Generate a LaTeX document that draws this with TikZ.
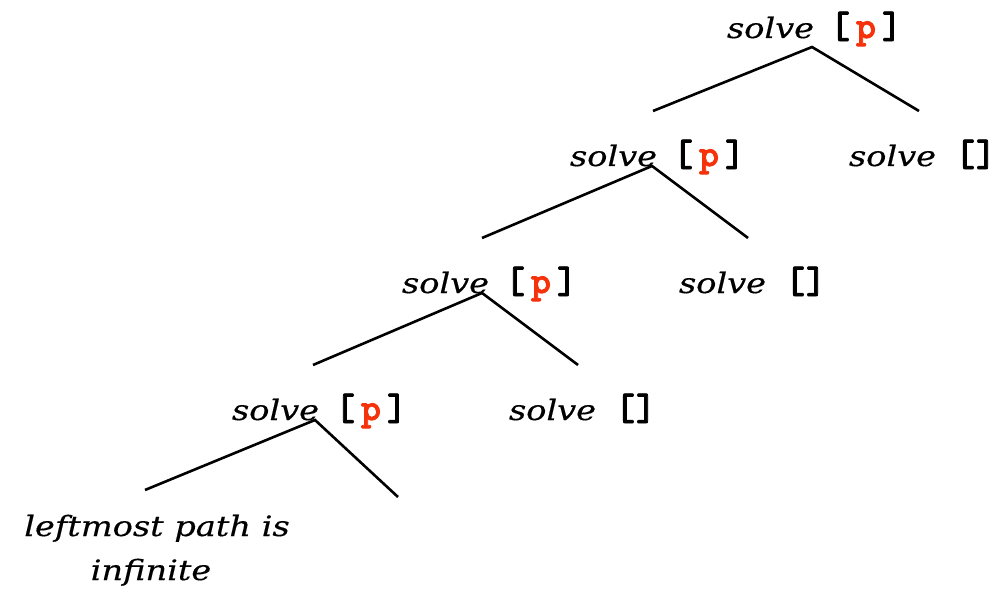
\documentclass[tikz,border=0pt]{standalone}
\usepackage{fontspec}
\newfontfamily\solvefont[FakeStretch=1.2,FakeBold=0.4]{DejaVu Serif Italic}
\newfontfamily\brkfont[FakeBold=2]{lmmonolt10-bold.otf}
\definecolor{pred}{RGB}{245,50,10}
\newcommand{\sv}{{\fontsize{28}{32}\selectfont\solvefont solve}}
\newcommand{\bp}{\hspace{16pt}{\fontsize{38}{40}\selectfont\brkfont [\hspace{6pt}\textcolor{pred}{p}\hspace{6pt}]}}
\newcommand{\be}{\hspace{19pt}{\fontsize{38}{40}\selectfont\brkfont [\hspace{1pt}]}}
\begin{document}
\begin{tikzpicture}[x=1pt,y=-1pt,
  lbl/.style={inner sep=0pt, outer sep=0pt, anchor=base west},
  leaftext/.style={inner sep=0pt, anchor=base, font=\fontsize{28}{32}\selectfont\solvefont},
  edge/.style={line width=2.6pt, black}]
\useasboundingbox (0,0) rectangle (1002,599);
% labels
\node[lbl] (n1) at (727,38) {\sv\bp};
\node[lbl] (n2) at (570,166) {\sv\bp};
\node[lbl] (r2) at (849,166) {\sv\be};
\node[lbl] (n3) at (402,293) {\sv\bp};
\node[lbl] (r3) at (679,293) {\sv\be};
\node[lbl] (n4) at (232,420) {\sv\bp};
\node[lbl] (r4) at (509,420) {\sv\be};
\node[leaftext] (leaf) at (157,536) {leftmost path is};
\node[leaftext] (leaf2) at (151,580) {infinite};
% branch points and line ends
\coordinate (b1) at (812,47);
\coordinate (l1) at (653,111);
\coordinate (e1) at (919,111);
\coordinate (b2) at (652,166);
\coordinate (l2) at (482,238);
\coordinate (e2) at (748,238);
\coordinate (b3) at (482,293);
\coordinate (l3) at (313,365);
\coordinate (e3) at (578,365);
\coordinate (b4) at (315,420);
\coordinate (l4) at (145,490);
\coordinate (e4) at (398,497);
\draw[edge] (l1) -- (b1) -- (e1);
\draw[edge] (l2) -- (b2) -- (e2);
\draw[edge] (l3) -- (b3) -- (e3);
\draw[edge] (l4) -- (b4) -- (e4);
\end{tikzpicture}
\end{document}
